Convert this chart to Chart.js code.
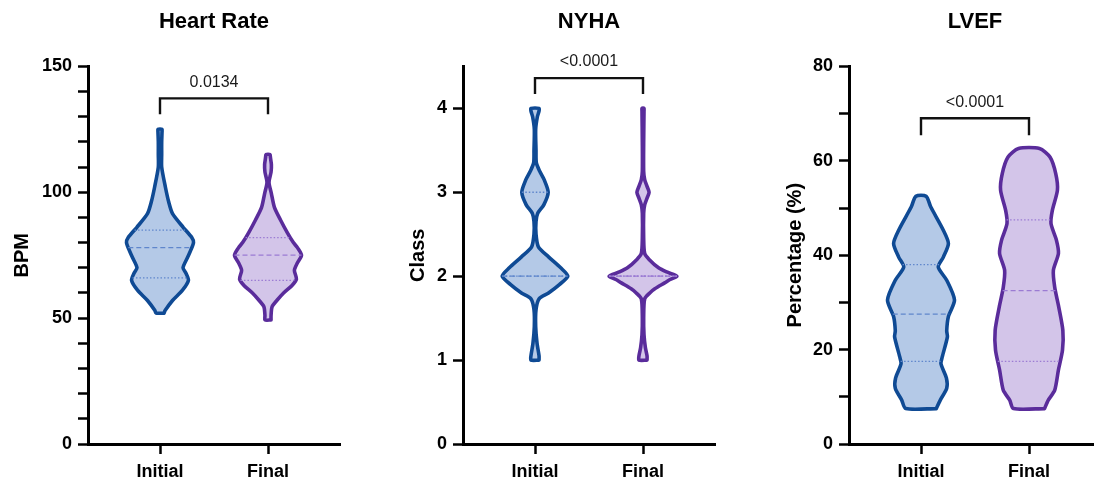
<!DOCTYPE html>
<html>
<head>
<meta charset="utf-8">
<script src="https://cdn.jsdelivr.net/npm/chart.js@4.4.0/dist/chart.umd.min.js"></script>
<style>
  html, body { margin: 0; padding: 0; background: #fff; overflow: hidden; }
  #wrap { position: relative; width: 1094px; height: 481px; overflow: hidden; }
  .panel { position: absolute; top: 0; }
</style>
</head>
<body>
<div id="wrap">
  <div class="panel" style="left:0"><canvas id="hr" width="365" height="481"></canvas></div>
  <div class="panel" style="left:365px"><canvas id="nyha" width="365" height="481"></canvas></div>
  <div class="panel" style="left:730px"><canvas id="lvef" width="372" height="481"></canvas></div>
</div>
<script>
// categories and their x positions
const categories = ['Initial', 'Final'];
const catPos = [1, 2.5];

// Heart rate (BPM) - violin levels and relative widths (0-100)
const hrInitialLevels = [52, 53, 57, 61, 65, 68, 70, 74, 77, 80, 82, 86, 91.5, 96, 102, 110, 115, 120, 124, 125];
const hrInitialWidths = [12, 15, 37, 66, 84, 76, 68, 81, 91, 99, 94, 69, 37, 26, 16, 5, 5, 5, 6, 6];
const hrFinalLevels = [49.3, 51, 54.5, 57, 60, 63, 65.5, 69, 72, 75, 78, 80, 84, 89, 94, 99.5, 104, 108, 111, 114, 115];
const hrFinalWidths = [9, 9, 12, 26, 46, 71, 84, 78, 87, 99, 87, 75, 57, 37, 19, 10, 3, 9, 10, 7, 6];
const hrInitialQuart = [66, 78, 85];
const hrFinalQuart = [65, 75, 82];

// NYHA class
const nyhaInitialLevels = [1.0, 1.05, 1.2, 1.4, 1.6, 1.73, 1.8, 1.9, 2.0, 2.1, 2.23, 2.35, 2.5, 2.65, 2.75, 2.85, 3.0, 3.15, 3.25, 3.35, 3.5, 3.75, 3.9, 3.97, 4.0];
const nyhaInitialWidths = [12, 12, 6, 2, 3, 12, 40, 72, 97, 76, 40, 10, 3, 3, 8, 26, 39, 27, 14, 4, 3, 2, 7, 12, 12];
const nyhaFinalLevels = [1.0, 1.05, 1.15, 1.3, 1.5, 1.73, 1.8, 1.85, 1.92, 1.96, 2.0, 2.05, 2.1, 2.2, 2.27, 2.45, 2.75, 2.85, 2.93, 3.0, 3.07, 3.15, 3.25, 3.6, 3.97, 4.0];
const nyhaFinalWidths = [12, 12, 7, 3, 2, 5, 20, 35, 64, 80, 100, 70, 46, 18, 5, 2, 2, 5, 12, 18, 12, 5, 2, 2, 3, 3];
const nyhaInitialQuart = [2, 2, 3];
const nyhaFinalQuart = [2, 2, 2];

// LVEF (%)
const lvefInitialLevels = [7.5, 9.3, 11.8, 14, 17, 18.5, 22.7, 24, 27, 30.5, 34.7, 37.5, 39.6, 42.5, 45.3, 50.2, 52.5];
const lvefInitialWidths = [45, 57, 76, 75, 59, 63, 78, 76, 81, 99, 76, 51, 66, 81, 66, 29, 15];
const lvefFinalLevels = [7.5, 9.3, 11.4, 15.7, 19.9, 24.1, 29, 33.2, 36.8, 40.4, 43.2, 46.7, 49.5, 53.8, 57.3, 60.8, 62.6];
const lvefFinalWidths = [46, 57, 76, 87, 99, 100, 88, 76, 72, 87, 81, 65, 69, 84, 79, 62, 31];
const lvefInitialQuart = [17.5, 27.5, 38];
const lvefFinalQuart = [17.5, 32.5, 47.5];

// p values and labelled y ticks
const pValues = ['0.0134', '<0.0001', '<0.0001'];
const hrTickLabels = [0, 50, 100, 150];
const nyhaTickLabels = [0, 1, 2, 3, 4];
const lvefTickLabels = [0, 20, 40, 60, 80];

const FONT = '"Liberation Sans", Arial, Helvetica, sans-serif';
Chart.defaults.font.family = FONT;
Chart.defaults.color = '#000';

const MAX_HALF = 0.47; // half width (x units) of a violin at width 100
const colors = [
  { line: '#0f4a94', fill: '#b4c9e7', inner: '#5f86cc' },
  { line: '#5a2c9b', fill: '#d3c5e9', inner: '#9b7bd3' }
];

function violinOutline(levels, widths, pos) {
  const right = levels.map((y, i) => ({ x: pos + widths[i] / 100 * MAX_HALF, y: y }));
  const left = levels.map((y, i) => ({ x: pos - widths[i] / 100 * MAX_HALF, y: y })).reverse();
  return right.concat(left, [right[0]]);
}

function widthAt(levels, widths, v) {
  for (let i = 1; i < levels.length; i++) {
    if (v <= levels[i]) {
      const t = (v - levels[i - 1]) / (levels[i] - levels[i - 1]);
      return widths[i - 1] + t * (widths[i] - widths[i - 1]);
    }
  }
  return widths[widths.length - 1];
}

function buildDatasets(violins, bracket) {
  const sets = [];
  violins.forEach((v, k) => {
    const pos = catPos[k];
    const c = colors[k];
    // quartile lines first so outline sits on top
    v.quart.forEach((q, j) => {
      const hw = widthAt(v.levels, v.widths, q) / 100 * MAX_HALF;
      sets.push({
        data: [{ x: pos - hw, y: q }, { x: pos + hw, y: q }],
        borderColor: c.inner,
        borderWidth: 1.3,
        borderDash: j === 1 ? [5, 3] : [1.5, 2],
        pointRadius: 0,
        fill: false,
        order: 1
      });
    });
    sets.push({
      data: violinOutline(v.levels, v.widths, pos),
      borderColor: c.line,
      backgroundColor: c.fill,
      borderWidth: 3.6,
      borderJoinStyle: 'round',
      borderCapStyle: 'round',
      pointRadius: 0,
      tension: 0.25,
      fill: 'shape',
      order: 2
    });
  });
  // significance bracket
  sets.push({
    data: [
      { x: catPos[0], y: bracket.leg }, { x: catPos[0], y: bracket.bar },
      { x: catPos[1], y: bracket.bar }, { x: catPos[1], y: bracket.leg }
    ],
    borderColor: '#111',
    borderWidth: 2.4,
    pointRadius: 0,
    tension: 0,
    fill: false,
    clip: false,
    order: 0
  });
  return sets;
}

const pLabelPlugin = {
  id: 'pLabel',
  afterDatasetsDraw(chart, args, opts) {
    const { ctx, scales: { x, y } } = chart;
    ctx.save();
    ctx.font = '16px ' + FONT;
    ctx.fillStyle = '#1a1a1a';
    ctx.textAlign = 'center';
    ctx.textBaseline = 'middle';
    const cx = (x.getPixelForValue(catPos[0]) + x.getPixelForValue(catPos[1])) / 2;
    ctx.fillText(opts.text, cx, y.getPixelForValue(opts.y));
    ctx.restore();
  }
};

function makePanel(id, cfg) {
  new Chart(document.getElementById(id), {
    type: 'line',
    data: { datasets: buildDatasets(cfg.violins, cfg.bracket) },
    plugins: [pLabelPlugin],
    options: {
      responsive: false,
      animation: false,
      events: [],
      layout: { padding: { left: 0, right: cfg.padRight, top: 0, bottom: 0 } },
      plugins: {
        legend: { display: false },
        tooltip: { enabled: false },
        title: {
          display: true,
          text: cfg.title,
          fullSize: false,
          color: '#000',
          font: { size: 22, weight: 'bold' },
          padding: { top: 9, bottom: 31 }
        },
        pLabel: { text: cfg.pValue, y: cfg.bracket.text }
      },
      scales: {
        x: {
          type: 'linear',
          min: 0,
          max: 3.5,
          afterBuildTicks: (s) => { s.ticks = catPos.map(v => ({ value: v })); },
          afterFit: (s) => { s.height = 37; },
          ticks: {
            autoSkip: false,
            maxRotation: 0,
            padding: 7,
            color: '#000',
            font: { size: 18, weight: 'bold' },
            callback: (v, i) => categories[i]
          },
          grid: { drawOnChartArea: false, drawTicks: true, tickLength: 10, tickWidth: 2.5, tickColor: '#000' },
          border: { display: true, color: '#000', width: 3 }
        },
        y: {
          type: 'linear',
          min: 0,
          max: cfg.yMax,
          afterFit: (s) => { s.width = cfg.axisWidth; },
          ticks: {
            stepSize: cfg.yStep,
            includeBounds: false,
            autoSkip: false,
            padding: 6,
            color: '#000',
            font: { size: 18, weight: 'bold' },
            callback: (v) => cfg.tickLabels.includes(v) ? v : ''
          },
          grid: { drawOnChartArea: false, drawTicks: true, tickLength: 10, tickWidth: 2.5, tickColor: '#000' },
          border: { display: true, color: '#000', width: 3 },
          title: {
            display: true,
            text: cfg.yTitle,
            color: '#000',
            font: { size: 20, weight: 'bold' },
            padding: { top: cfg.yTitlePad, bottom: 0 }
          }
        }
      }
    }
  });
}

makePanel('hr', {
  title: 'Heart Rate', yTitle: 'BPM', yMax: 150, yStep: 10, tickLabels: hrTickLabels,
  axisWidth: 88, padRight: 25, yTitlePad: 10, pValue: pValues[0],
  bracket: { bar: 137.3, leg: 131, text: 143.7 },
  violins: [
    { levels: hrInitialLevels, widths: hrInitialWidths, quart: hrInitialQuart },
    { levels: hrFinalLevels, widths: hrFinalWidths, quart: hrFinalQuart }
  ]
});

makePanel('nyha', {
  title: 'NYHA', yTitle: 'Class', yMax: 4.5, yStep: 1, tickLabels: nyhaTickLabels,
  axisWidth: 98, padRight: 15, yTitlePad: 41, pValue: pValues[1],
  bracket: { bar: 4.36, leg: 4.17, text: 4.56 },
  violins: [
    { levels: nyhaInitialLevels, widths: nyhaInitialWidths, quart: nyhaInitialQuart },
    { levels: nyhaFinalLevels, widths: nyhaFinalWidths, quart: nyhaFinalQuart }
  ]
});

makePanel('lvef', {
  title: 'LVEF', yTitle: 'Percentage (%)', yMax: 80, yStep: 10, tickLabels: lvefTickLabels,
  axisWidth: 119, padRight: 1, yTitlePad: 53, pValue: pValues[2],
  bracket: { bar: 69, leg: 65.4, text: 72.4 },
  violins: [
    { levels: lvefInitialLevels, widths: lvefInitialWidths, quart: lvefInitialQuart },
    { levels: lvefFinalLevels, widths: lvefFinalWidths, quart: lvefFinalQuart }
  ]
});
</script>
</body>
</html>
